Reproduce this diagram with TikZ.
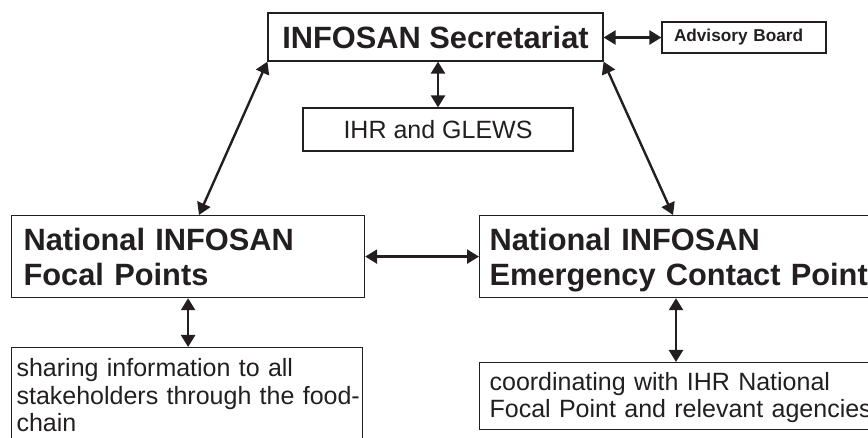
\documentclass[tikz,border=0pt]{standalone}
\usepackage{fontspec}
\setmainfont{Liberation Sans}
\usepackage{tikz}
\usetikzlibrary{arrows.meta}
\usepackage{xcolor}
\definecolor{inkdark}{HTML}{231F20}

\begin{document}
\begin{tikzpicture}[x=1pt, y=-1pt,
  box/.style={draw=inkdark, line width=1.2pt, rectangle, inner ysep=0pt, text=inkdark},
  link/.style={{Triangle[length=12pt,width=14pt]}-{Triangle[length=12pt,width=14pt]}, line width=2.4pt, draw=inkdark}]
  \clip (0,0) rectangle (868,438);
  % top row
  \node[box, minimum width=335pt, minimum height=48pt, font=\fontsize{30.8}{35}\selectfont\bfseries] (sec) at (435.5,37) {INFOSAN Secretariat};
  \node[box, minimum width=164pt, minimum height=31pt, text width=140pt, inner xsep=12pt, align=left, font=\fontsize{17.2}{20}\selectfont\bfseries] (adv) at (744,37.5) {Advisory Board};
  \node[box, minimum width=270pt, minimum height=43pt, font=\fontsize{25}{27.5}\selectfont] (ihr) at (438,129.5) {IHR and GLEWS};
  % national level
  \node[box, anchor=north west, minimum width=353pt, minimum height=82pt, text width=329pt, inner xsep=12pt, align=left, text height=22pt, text depth=35pt, font=\fontsize{30.8}{35}\selectfont\bfseries] (nfp) at (11,215) {National INFOSAN\\Focal Points};
  \node[box, anchor=north west, minimum height=82pt, text width=400pt, inner xsep=10pt, align=left, text height=22pt, text depth=35pt, font=\fontsize{30.8}{35}\selectfont\bfseries] (necp) at (479,215) {National INFOSAN\\Emergency Contact Point};
  % tasks
  \node[box, anchor=north west, text width=341pt, inner xsep=5pt, inner ysep=11pt, align=left, text height=18pt, text depth=60pt, font=\fontsize{25}{27.5}\selectfont] (share) at (11,347) {sharing information to all\\\mbox{stakeholders through the food-}\\chain};
  \node[box, anchor=north west, text width=400pt, inner xsep=10pt, inner ysep=10pt, align=left, text height=18pt, text depth=29pt, font=\fontsize{25}{27}\selectfont] (coord) at (479,362) {coordinating with IHR National\\Focal Point and relevant agencies};
  % links
  \draw[link] (adv.west -| sec.east) -- (adv.west);
  \draw[link] (sec.south -| ihr.north) -- (ihr.north);
  \draw[link] (sec.south west) -- ([xshift=188pt]nfp.north west);
  \draw[link] (sec.south east) -- ([xshift=194pt]necp.north west);
  \draw[link] (nfp.east) -- (necp.west);
  \draw[link] (nfp.south) -- (nfp.south |- share.north);
  \draw[link] ([xshift=197pt]necp.south west) -- ([xshift=197pt]coord.north west);
\end{tikzpicture}
\end{document}
